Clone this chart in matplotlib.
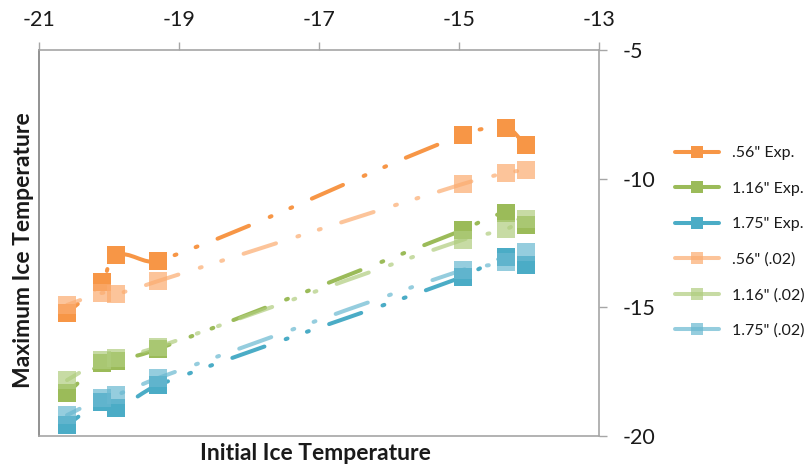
import numpy as np
import matplotlib
matplotlib.use("Agg")
from matplotlib import pyplot as plt
from matplotlib.path import Path
from matplotlib.patches import PathPatch
from matplotlib.lines import Line2D

plt.rcParams['font.family'] = ['Lato', 'DejaVu Sans']
plt.rcParams['lines.scale_dashes'] = False
plt.rcParams['axes.unicode_minus'] = False

# initial ice temperature (same for every series)
init_temp = [-20.6, -20.1, -19.9, -19.3, -14.95, -14.33, -14.05]

# maximum ice temperature, measured
exp_056 = [-15.22, -14.02, -12.97, -13.20, -8.30, -8.03, -8.69]
exp_116 = [-18.33, -17.16, -17.09, -16.62, -12.00, -11.34, -11.80]
exp_175 = [-19.57, -18.68, -18.91, -18.02, -13.82, -13.05, -13.36]

# maximum ice temperature, model (.02)
mod_056 = [-14.91, -14.44, -14.48, -13.98, -10.21, -9.78, -9.66]
mod_116 = [-17.83, -17.05, -16.97, -16.54, -12.38, -11.96, -11.57]
mod_175 = [-19.19, -18.53, -18.41, -17.75, -13.55, -13.24, -12.85]

labels = ['.56" Exp.', '1.16" Exp.', '1.75" Exp.',
          '.56" (.02)', '1.16" (.02)', '1.75" (.02)']
x_ticks = [-21, -19, -17, -15, -13]
y_ticks = [-5, -10, -15, -20]

dark = ['#F79646', '#9BBB59', '#4BACC6']
light = ['#FBAC70', '#B0CD7E', '#69B8D0']

series = [(exp_056, dark[0], 1.0), (exp_116, dark[1], 1.0), (exp_175, dark[2], 1.0),
          (mod_056, light[0], 0.7), (mod_116, light[1], 0.7), (mod_175, light[2], 0.7)]

# long dash, dot, dot (points)
dash = (14.4, (24.5, 16.2, 1.4, 14.8, 1.4, 15.5))
lw = 2.9
ms = 12.6

fig = plt.figure(figsize=(8.11, 4.67), dpi=100)
ax = fig.add_axes([0.0481, 0.0664, 0.6905, 0.8266])
ax.set_xlim(-21, -13)
ax.set_ylim(-20, -5)


def smooth_path(xs, ys):
    # bezier through the points, tangents worked out in screen space
    pts = ax.transData.transform(np.column_stack([xs, ys]))
    n = len(pts)
    verts = [pts[0]]
    codes = [Path.MOVETO]
    for i in range(n - 1):
        p0 = pts[i - 1] if i > 0 else pts[i]
        p1, p2 = pts[i], pts[i + 1]
        p3 = pts[i + 2] if i + 2 < n else pts[i + 1]
        seg = np.hypot(*(p2 - p1)) / 3.0
        t1 = (p2 - p0) / np.hypot(*(p2 - p0))
        t2 = (p3 - p1) / np.hypot(*(p3 - p1))
        verts += [p1 + t1 * seg, p2 - t2 * seg, p2]
        codes += [Path.CURVE4] * 3
    verts = ax.transData.inverted().transform(np.array(verts))
    return Path(verts, codes)


for ys, col, a in series:
    patch = PathPatch(smooth_path(init_temp, ys), facecolor='none', edgecolor=col,
                      lw=lw, linestyle=dash, capstyle='round', joinstyle='round',
                      alpha=a, zorder=2)
    ax.add_patch(patch)
    ax.plot(init_temp, ys, linestyle='none', marker='s', ms=ms, mew=0,
            color=col, alpha=a, zorder=3)

ax.xaxis.tick_top()
ax.yaxis.tick_right()
ax.set_xticks(x_ticks)
ax.set_yticks(y_ticks)
ax.tick_params(direction='out', length=6, width=1, color='#a6a6a6',
               labelsize=15.5, labelcolor='#1a1a1a')
ax.tick_params(axis='x', pad=8.5)
ax.tick_params(axis='y', pad=11)
for side in ['top', 'right', 'bottom']:
    ax.spines[side].set_color('#a6a6a6')
    ax.spines[side].set_linewidth(1.2)
ax.spines['left'].set_color('#7f7f7f')
ax.spines['left'].set_linewidth(1.2)

fig.text(315 / 811, 1 - 453 / 467, 'Initial Ice Temperature', ha='center', va='center',
         fontsize=16.5, fontweight='bold', color='#1a1a1a')
fig.text(24 / 811, 1 - 250 / 467, 'Maximum Ice Temperature', ha='center', va='center',
         rotation=90, fontsize=16.5, fontweight='bold', color='#1a1a1a')

handles = [Line2D([0], [0], color=col, lw=lw, marker='s', ms=8.6, mew=0, alpha=a,
                  solid_capstyle='round') for _, col, a in series]
fig.legend(handles, labels, loc='center left', bbox_to_anchor=(675 / 811, 1 - 242 / 467),
           frameon=False, fontsize=11.5, handlelength=2.75, handletextpad=0.8,
           labelspacing=1.33, borderpad=0, borderaxespad=0, labelcolor='#1a1a1a')

fig.savefig('out.png', dpi=100)
